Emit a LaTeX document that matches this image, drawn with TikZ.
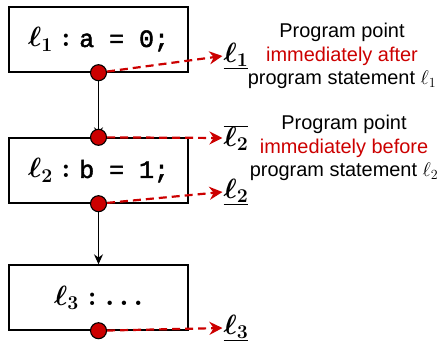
\RequirePackage{fix-cm}
\documentclass[tikz,border=0pt]{standalone}
\usepackage{fontspec}
\setmainfont{Liberation Sans}
\newfontfamily\codefont{Liberation Mono}[FakeBold=2]
\usetikzlibrary{positioning, arrows.meta}
\definecolor{ptred}{RGB}{204,0,0}

\begin{document}
\begin{tikzpicture}[x=1bp, y=-1bp,
    stmt/.style={draw, line width=1.4bp, minimum width=179bp, minimum height=65bp, inner sep=0pt, font=\fontsize{28}{32}\selectfont\boldmath},
    pt/.style={circle, draw, line width=1.1bp, fill=ptred, minimum size=16bp, inner sep=0pt},
    flow/.style={-{Stealth[length=10bp, width=9bp]}, line width=1.1bp},
    link/.style={ptred, dash pattern=on 8bp off 5bp, line width=2.2bp, -{Stealth[length=13bp, width=13bp]}},
    lbl/.style={font=\fontsize{28}{32}\selectfont\boldmath, inner sep=1bp},
    note/.style={align=center, font=\fontsize{20}{23.5}\selectfont}]
    \useasboundingbox (0,0) rectangle (442,346);

    % Statements
    \node[stmt] (s1) at (98.5,39.5) {$\ell_1 : \mbox{\fontsize{25}{28}\codefont a = 0;}$};
    \node[stmt] (s2) at (98.5,170.5) {$\ell_2 : \mbox{\fontsize{25}{28}\codefont b = 1;}$};
    \node[stmt] (s3) at (98.5,297.5) {$\ell_3 : \ldots$};

    % Control flow
    \draw[flow] (s1.south) -- (s2.north);
    \draw[flow] (s2.south) -- (s3.north);

    % Program points
    \node[pt] (p1) at (s1.south) {};
    \node[pt] (p2in) at (s2.north) {};
    \node[pt] (p2out) at (s2.south) {};
    \node[pt] (p3) at (s3.south) {};

    % Point labels
    \node[lbl] (lab1) at (236,56) {$\underline{\ell_1}$};
    \node[lbl] (lab2in) at (236,138) {$\overline{\ell_2}$};
    \node[lbl] (lab2out) at (236,192) {$\underline{\ell_2}$};
    \node[lbl] (lab3) at (236,328) {$\underline{\ell_3}$};

    \draw[link] (p1) -- (lab1.west);
    \draw[link] (p2in) -- (lab2in.west);
    \draw[link] (p2out) -- (lab2out.west);
    \draw[link] (p3) -- (lab3.west);

    % Explanations
    \node[note] (n1) at (342,56) {Program point\\{\color{ptred}immediately after}\\program statement $\ell_1$};
    \node[note] (n2) at (344,148) {Program point\\{\color{ptred}immediately before}\\program statement $\ell_2$};
\end{tikzpicture}
\end{document}
